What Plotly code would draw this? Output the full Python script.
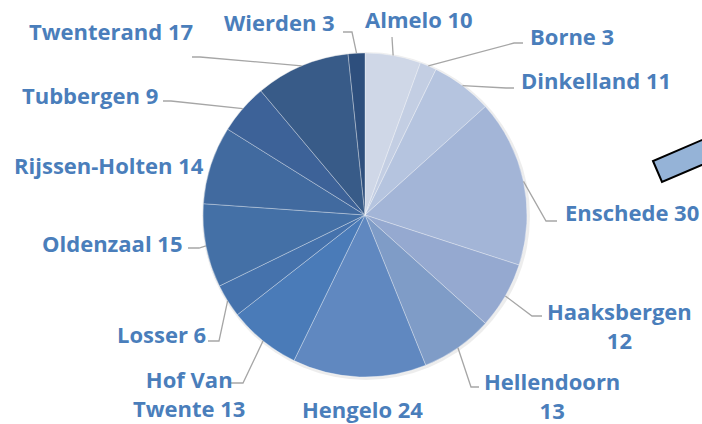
import math
import plotly.graph_objects as go

# ---- data ----
gemeenten = ["Almelo", "Borne", "Dinkelland", "Enschede", "Haaksbergen", "Hellendoorn",
             "Hengelo", "Hof Van Twente", "Losser", "Oldenzaal", "Rijssen-Holten",
             "Tubbergen", "Twenterand", "Wierden"]
aantallen = [10, 3, 11, 30, 12, 13, 24, 13, 6, 15, 14, 9, 17, 3]
label_teksten = ["Almelo 10", "Borne 3", "Dinkelland 11", "Enschede 30", "Haaksbergen<br>12",
                 "Hellendoorn<br>13", "Hengelo 24", "Hof Van<br>Twente 13", "Losser 6",
                 "Oldenzaal 15", "Rijssen-Holten 14", "Tubbergen 9", "Twenterand 17", "Wierden 3"]

# ---- style ----
kleuren = ["#CFD7E7", "#C3CEE3", "#B5C4DF", "#A3B5D7", "#95A9D0", "#7F9CC7", "#6088C0",
           "#4A7BB8", "#4572AC", "#4470A6", "#416A9F", "#3D6298", "#385B88", "#2E4F7D"]
W, H = 702, 424
CX, CY, R = 365, 215, 162
TEXT_COLOR = "#4A7EBB"
LINE_COLOR = "#A6A6A6"
FONT = "Open Sans"
FS = 22

# label placement (pixel layout): (x, y, xanchor)
label_pos = [(363, 19, "left"), (528, 36, "left"), (519, 80, "left"), (563, 212, "left"),
             (619, 325, "center"), (552, 395, "center"), (362, 409, "center"),
             (189, 393, "center"), (115, 334, "left"), (40, 243, "left"),
             (12, 165, "left"), (20, 95, "left"), (27, 31, "left"), (222, 22, "left")]
# leader-line points after the slice edge point (pixel layout)
leader_pts = [[(392, 37)], [(514, 43), (523, 43)], [(506, 88), (514, 88)],
              [(546, 221), (557, 221)], [(532, 316), (542, 316)], [(471, 387), (479, 387)],
              None, [(243, 383), (230, 383)], [(219, 341), (208, 341)],
              [(199, 248), (188, 248)], None, [(171, 101), (163, 101)],
              [(200, 57), (192, 57)], [(352, 32), (343, 32)]]


def px(x):
    return x / W


def py(y):
    return 1 - y / H


fig = go.Figure()

# soft shadow
fig.add_trace(go.Pie(values=[1], marker=dict(colors=["rgba(0,0,0,0.07)"], line=dict(width=0)),
                     textinfo="none", hoverinfo="skip", sort=False, showlegend=False,
                     domain=dict(x=[px(CX - R - 1), px(CX + R + 3)],
                                 y=[py(CY + R + 3), py(CY - R - 1)])))

fig.add_trace(go.Pie(labels=gemeenten, values=aantallen, sort=False, direction="clockwise",
                     rotation=0, textinfo="none", showlegend=False,
                     marker=dict(colors=kleuren, line=dict(color="rgba(255,255,255,0.45)", width=0.7)),
                     domain=dict(x=[px(CX - R), px(CX + R)], y=[py(CY + R), py(CY - R)])))

total = sum(aantallen)
cum = 0
shapes = []
annotations = []
for i, v in enumerate(aantallen):
    mid = (cum + v / 2) / total * 2 * math.pi
    cum += v
    ex, ey = CX + R * math.sin(mid), CY - R * math.cos(mid)
    pts = leader_pts[i]
    if pts:
        path = f"M{px(ex)},{py(ey)}" + "".join(f" L{px(a)},{py(b)}" for a, b in pts)
        shapes.append(dict(type="path", path=path, xref="paper", yref="paper",
                           line=dict(color=LINE_COLOR, width=1.3)))
    lx, ly, anc = label_pos[i]
    annotations.append(dict(text=f"<b>{label_teksten[i]}</b>", x=px(lx), y=py(ly),
                            xref="paper", yref="paper", xanchor=anc, yanchor="middle",
                            showarrow=False, align="center",
                            font=dict(family=FONT, size=FS, color=TEXT_COLOR)))

# partially visible shape at the right edge
rect = [(653, 161), (662, 182), (760, 140), (751, 119)]
shapes.append(dict(type="path", xref="paper", yref="paper",
                   path="M" + " L".join(f"{px(a)},{py(b)}" for a, b in rect) + " Z",
                   fillcolor="#95B3D7", line=dict(color="black", width=2)))

fig.update_layout(width=W, height=H, margin=dict(l=0, r=0, t=0, b=0),
                  paper_bgcolor="white", plot_bgcolor="white",
                  shapes=shapes, annotations=annotations)

fig.write_html("out.html", config={"displayModeBar": False},
               post_script="document.body.style.margin='0';document.body.style.overflow='hidden';")
